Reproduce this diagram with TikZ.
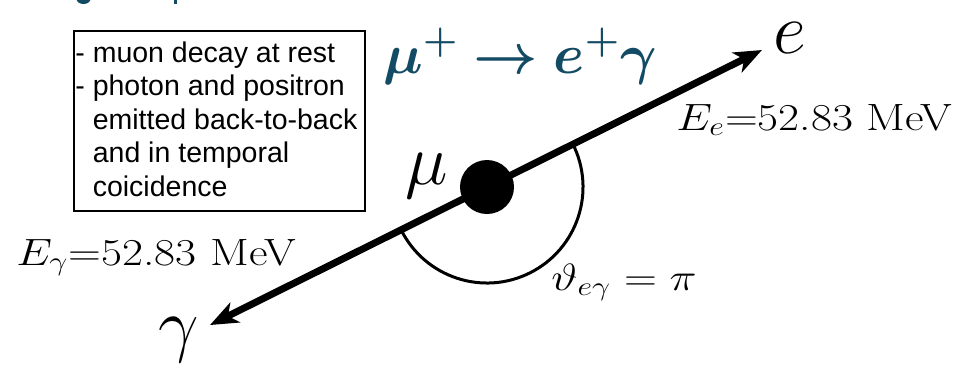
\RequirePackage{fix-cm}
\documentclass[tikz,border=0pt]{standalone}
\usepackage{amsmath}
\usepackage{bm}
\usepackage{graphicx}
\usepackage{fontspec}
\newfontfamily\boxfont{Liberation Sans}
\usetikzlibrary{arrows.meta}
\definecolor{titlecol}{RGB}{18,75,99}
\newcommand{\widen}[1]{\scalebox{1.2}[1]{#1}}
\begin{document}
\begin{tikzpicture}[x=0.5pt,y=-0.5pt,
  arr/.style={line width=3.5pt,-{Stealth[length=14pt,width=11pt,inset=4pt]}},
  greek/.style={font=\fontsize{36pt}{40pt}\selectfont, inner sep=0pt, anchor=base west},
  lab/.style={font=\fontsize{19pt}{22pt}\selectfont, inner sep=0pt, anchor=base west},
  boxtxt/.style={font=\boxfont\fontsize{14.25pt}{16.75pt}\selectfont, align=left, anchor=north west, inner sep=0pt},
  framebox/.style={draw, line width=0.75pt, minimum width=145.5pt, minimum height=90pt, anchor=north west, inner sep=0pt},
  dot/.style={circle, fill=black, inner sep=0pt, minimum size=27pt}]
\useasboundingbox (0,0) rectangle (956,372);
% cut-off remnants at the top
\fill[titlecol] (83.5,-1) ellipse [x radius=7, y radius=5];
\fill[titlecol] (174,0) rectangle (177,3.5);
% box
\node[framebox] (box) at (73,30) {};
\node[boxtxt] (boxtext) at (75,41) {- muon decay at rest\\- photon and positron\\\phantom{- }emitted back-to-back\\\phantom{- }and in temporal\\\phantom{- }coicidence};
% title
\node[font=\fontsize{28pt}{32pt}\selectfont, text=titlecol, inner sep=0pt, anchor=base west] (title) at (383,73) {$\bm{\mu}^{\bm{+}}\mathrel{\bm{\rightarrow}}\bm{e}^{\bm{+}}\bm{\gamma}$};
% muon and tracks
\node[dot] (mu) at (487,187) {};
\coordinate (etip) at (762,50);
\coordinate (gtip) at (210,325);
\draw[line width=1.5pt] (mu.center) ++(-26.7:96) arc[start angle=-26.7, end angle=153.3, radius=96];
\draw[arr] (mu.center) -- (etip);
\draw[arr] (mu.center) -- (gtip);
% labels
\node[greek] (elab) at (773,53) {$e$};
\node[greek] (glab) at (158,348) {$\gamma$};
\node[greek] (mulab) at (405,184) {$\mu$};
\node[lab] (Ee) at (676,130) {\widen{$E_e$=52.83 MeV}};
\node[lab] (Eg) at (16,265) {\widen{$E_\gamma$=52.83 MeV}};
\node[lab] (theta) at (551,290) {\widen{$\vartheta_{e\gamma}=\pi$}};
\end{tikzpicture}
\end{document}
